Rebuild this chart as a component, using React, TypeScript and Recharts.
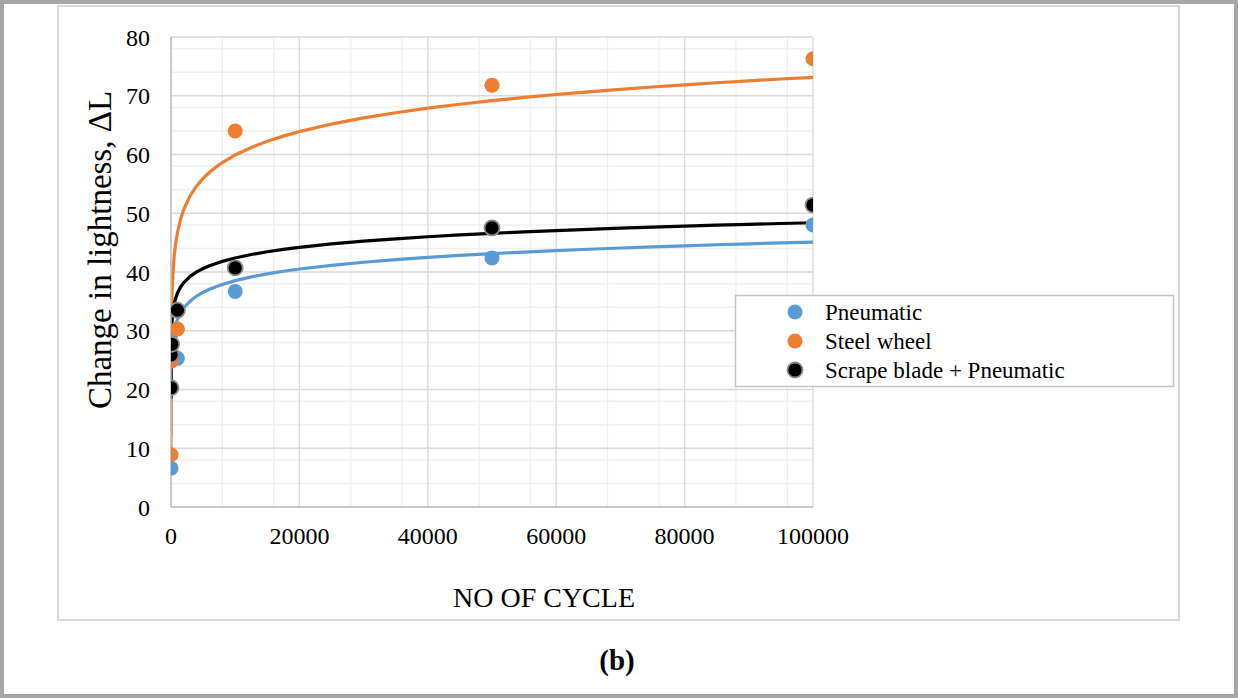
import React from 'react';
import { ComposedChart, Scatter, Line, XAxis, YAxis, CartesianGrid } from 'recharts';

// ---- data ----
const cycles = [1, 10, 100, 1000, 10000, 50000, 100000];
const pneumatic = [6.6, 26.5, 29.6, 25.3, 36.7, 42.4, 48.0];
const steelWheel = [8.9, 24.8, 33.5, 30.3, 64.0, 71.8, 76.3];
const scrapeBlade = [20.3, 25.9, 27.7, 33.5, 40.7, 47.5, 51.4];

const xTicks = [0, 20000, 40000, 60000, 80000, 100000];
const yTicks = [0, 10, 20, 30, 40, 50, 60, 70, 80];
const xMinor = [4000, 8000, 12000, 16000, 24000, 28000, 32000, 36000, 44000, 48000, 52000, 56000, 64000, 68000, 72000, 76000, 84000, 88000, 92000, 96000];
const yMinor = [2, 4, 6, 8, 12, 14, 16, 18, 22, 24, 26, 28, 32, 34, 36, 38, 42, 44, 46, 48, 52, 54, 56, 58, 62, 64, 66, 68, 72, 74, 76, 78];

const seriesNames = ['Pneumatic', 'Steel wheel', 'Scrape blade + Pneumatic'];
const colors = ['#5B9BD5', '#ED7D31', '#000000'];

// x positions at which the logarithmic trendlines are sampled
const trendX = [1, 2, 3, 5, 7, 10, 15, 20, 30, 50, 70, 100, 150, 200, 300, 500, 700, 1000, 1500, 2000, 3000, 4000, 5000, 6000, 7000, 8000, 10000, 12500, 15000, 17500, 20000, 25000, 30000, 35000, 40000, 45000, 50000, 55000, 60000, 65000, 70000, 75000, 80000, 85000, 90000, 95000, 100000];

const toPoints = (ys: number[]) => cycles.map((x, i) => ({ x, y: ys[i] }));

// Excel-style logarithmic trendline: least squares fit y = a ln(x) + b
const logTrend = (ys: number[]) => {
  const lx = cycles.map((x) => Math.log(x));
  const n = lx.length;
  const mx = lx.reduce((s, v) => s + v, 0) / n;
  const my = ys.reduce((s, v) => s + v, 0) / n;
  let sxy = 0;
  let sxx = 0;
  for (let i = 0; i < n; i++) {
    sxy += (lx[i] - mx) * (ys[i] - my);
    sxx += (lx[i] - mx) * (lx[i] - mx);
  }
  const a = sxy / sxx;
  const b = my - a * mx;
  return trendX.map((x) => ({ x, y: a * Math.log(x) + b }));
};

const allSeries = [pneumatic, steelWheel, scrapeBlade];

const FONT = '"Liberation Serif", "Times New Roman", serif';

const makeDot = (fill: string, outline: string | null) => (props: any) => {
  const { cx, cy } = props;
  if (cx == null || cy == null) return <g />;
  return (
    <circle
      cx={cx}
      cy={cy}
      r={7.5}
      fill={fill}
      stroke={outline || 'none'}
      strokeWidth={outline ? 1.8 : 0}
    />
  );
};

export default function App() {
  const plotLeft = 171;
  const plotTop = 37;
  const plotRight = 813;
  const plotBottom = 507;
  const yAxisW = 60;
  const xAxisH = 40;

  return (
    <div style={{ position: 'absolute', left: 0, top: 0, width: 1238, height: 698, background: '#ffffff', fontFamily: FONT }}>
      <div style={{ position: 'absolute', left: 57, top: 5, width: 1123, height: 616, boxSizing: 'border-box', border: '2px solid #dadada' }} />
      <div style={{ position: 'absolute', left: 0, top: 0 }}>
        <ComposedChart
          width={1238}
          height={698}
          margin={{ top: plotTop, right: 1238 - plotRight, left: plotLeft - yAxisW, bottom: 698 - plotBottom - xAxisH }}
        >
          <CartesianGrid verticalValues={xMinor} horizontalValues={yMinor} stroke="#efefef" strokeWidth={1.3} fill="none" />
          <CartesianGrid verticalValues={xTicks} horizontalValues={yTicks} stroke="#d9d9d9" strokeWidth={1.3} fill="none" />
          <XAxis
            type="number"
            dataKey="x"
            domain={[0, 100000]}
            ticks={xTicks}
            allowDataOverflow
            height={xAxisH}
            tickLine={false}
            tickSize={6}
            tickMargin={14}
            axisLine={{ stroke: '#bfbfbf', strokeWidth: 1.5 }}
            tick={{ fill: '#000', fontSize: 24, fontFamily: FONT }}
          />
          <YAxis
            type="number"
            domain={[0, 80]}
            ticks={yTicks}
            allowDataOverflow
            width={yAxisW}
            tickLine={false}
            tickSize={6}
            tickMargin={15}
            axisLine={{ stroke: '#bfbfbf', strokeWidth: 1.5 }}
            tick={{ fill: '#000', fontSize: 24, fontFamily: FONT }}
          />
          {allSeries.map((ys, i) => (
            <Line
              key={'t' + i}
              data={logTrend(ys)}
              dataKey="y"
              type="linear"
              stroke={colors[i]}
              strokeWidth={3.2}
              dot={false}
              activeDot={false}
              isAnimationActive={false}
              legendType="none"
            />
          ))}
          {allSeries.map((ys, i) => (
            <Scatter
              key={'s' + i}
              name={seriesNames[i]}
              data={toPoints(ys)}
              dataKey="y"
              fill={colors[i]}
              shape={makeDot(colors[i], i === 2 ? '#8a8a8a' : null)}
              isAnimationActive={false}
            />
          ))}
        </ComposedChart>
      </div>
      <svg width={1238} height={698} style={{ position: 'absolute', left: 0, top: 0, pointerEvents: 'none' }}>
        <text
          x={100}
          y={250}
          transform="rotate(-90 100 250)"
          textAnchor="middle"
          dominantBaseline="central"
          fontSize={33}
          fontFamily={FONT}
          fill="#000"
        >
          Change in lightness, ΔL
        </text>
        <text x={544} y={597} textAnchor="middle" dominantBaseline="central" fontSize={28} fontFamily={FONT} fill="#000">
          NO OF CYCLE
        </text>
        <text x={617} y={660} textAnchor="middle" dominantBaseline="central" fontSize={29} fontWeight="bold" fontFamily={FONT} fill="#000">
          (b)
        </text>
        <rect x={735.5} y={295.5} width={438} height={91} fill="#ffffff" stroke="#c4c4c4" strokeWidth={1.5} />
        {seriesNames.map((name, i) => (
          <g key={name}>
            <circle
              cx={795}
              cy={312 + i * 29}
              r={7.5}
              fill={colors[i]}
              stroke={i === 2 ? '#8a8a8a' : 'none'}
              strokeWidth={i === 2 ? 1.8 : 0}
            />
            <text x={825} y={312 + i * 29} dominantBaseline="central" fontSize={23} fontFamily={FONT} fill="#000">
              {name}
            </text>
          </g>
        ))}
      </svg>
      <div style={{ position: 'absolute', left: 0, top: 0, width: 1238, height: 698, boxSizing: 'border-box', border: '4px solid #a6a6a6', pointerEvents: 'none' }} />
    </div>
  );
}
